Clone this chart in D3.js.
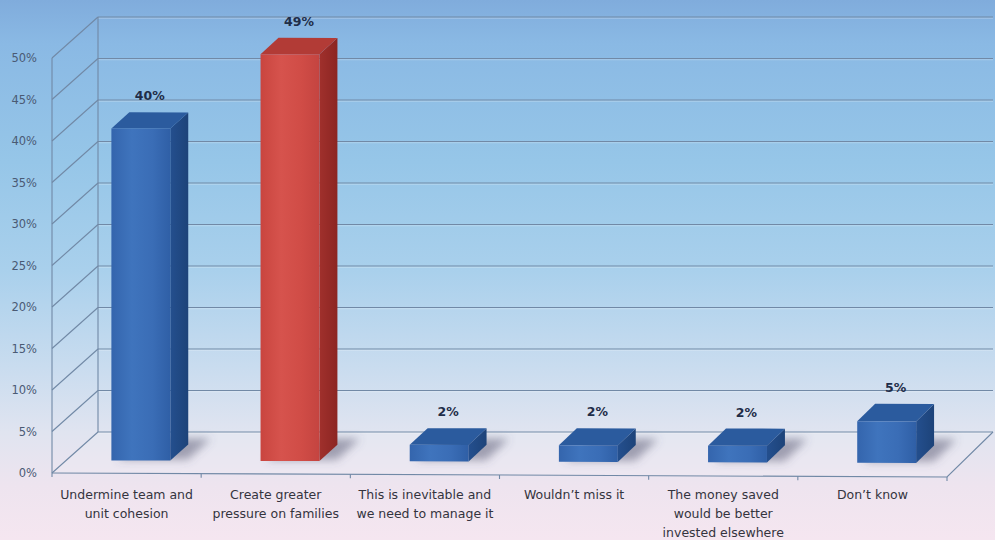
<!DOCTYPE html>
<html>
<head>
<meta charset="utf-8">
<script src="https://cdn.jsdelivr.net/npm/d3@7"></script>
<style>
  html, body { margin: 0; padding: 0; background: #fff; }
  svg { display: block; }
</style>
</head>
<body>
<svg id="chart" width="995" height="540"></svg>
<script>
// Survey answers, values in percent
const categories = [
  "Undermine team and\nunit cohesion",
  "Create greater\npressure on families",
  "This is inevitable and\nwe need to manage it",
  "Wouldn\u2019t miss it",
  "The money saved\nwould be better\ninvested elsewhere",
  "Don\u2019t know"
];
const values = [40, 49, 2, 2, 2, 5];
const highlight = [false, true, false, false, false, false];
const tickValues = [0, 5, 10, 15, 20, 25, 30, 35, 40, 45, 50];

const W = 995, H = 540;
const svg = d3.select("#chart");
const defs = svg.append("defs");

// Background wash: blue sky at the top fading to pale pink
const bg = defs.append("linearGradient").attr("id", "bg")
  .attr("x1", 0).attr("y1", 0).attr("x2", 0).attr("y2", 1);
[[0, "#80acdc"], [0.08, "#8ab9e4"], [0.3, "#96c6e8"], [0.5, "#a9d0ec"],
 [0.68, "#c9dcef"], [0.8, "#e0e4f0"], [0.9, "#eee4ef"], [1, "#f5e6f0"]]
  .forEach(([o, c]) => bg.append("stop").attr("offset", o).attr("stop-color", c));
svg.append("rect").attr("width", W).attr("height", H).attr("fill", "url(#bg)");

// 3D frame geometry
const x0 = 52, x1 = 947;          // front edge of the floor
const yFront0 = 473;               // front 0% line at left
const tilt = 4;                    // front edge drops slightly to the right
const depthX = 46, depthY = 41;    // offset from front to back wall

const x = d3.scaleBand().domain(d3.range(categories.length)).range([x0, x1]);
const h = d3.scaleLinear().domain([0, 50]).range([0, 415]);
const yAxisScale = d3.scaleLinear().domain([0, 50]).range([yFront0, yFront0 - 415]);

// project (front x, depth 0..1, value) to screen
function P(fx, d, v) {
  const base = yFront0 + tilt * (fx - x0) / (x1 - x0) * (1 - d) - d * depthY;
  return [fx + d * depthX, base - h(v)];
}
const poly = pts => pts.map(p => p.join(",")).join(" ");

const gridColor = "#7189a6";
const grid = svg.append("g").attr("fill", "none").attr("stroke", gridColor).attr("stroke-width", 1.1);

// floor
svg.insert("polygon", "g")
  .attr("points", poly([P(x0, 0, 0), P(x1, 0, 0), P(x1, 1, 0), P(x0, 1, 0)]))
  .attr("fill", "#ffffff").attr("opacity", 0.12);

// back wall and side wall gridlines
tickValues.forEach(v => {
  const a = P(x0, 0, v), b = P(x0, 1, v), c = P(x1, 1, v);
  grid.append("line").attr("x1", b[0]).attr("y1", b[1]).attr("x2", c[0]).attr("y2", c[1]);
  grid.append("line").attr("x1", b[0]).attr("y1", b[1] + 1.3).attr("x2", c[0]).attr("y2", c[1] + 1.3)
    .attr("stroke", "#ffffff").attr("stroke-opacity", 0.25);
  grid.append("line").attr("x1", a[0]).attr("y1", a[1]).attr("x2", b[0]).attr("y2", b[1]);
});
// vertical edges of the side wall
[[0], [1]].forEach(([d]) => {
  const a = P(x0, d, 0), b = P(x0, d, 50);
  grid.append("line").attr("x1", a[0]).attr("y1", a[1]).attr("x2", b[0]).attr("y2", b[1]);
});
// floor front and right edges
{
  const a = P(x0, 0, 0), b = P(x1, 0, 0), c = P(x1, 1, 0);
  grid.append("polyline").attr("points", poly([a, b, c]));
}
// category ticks along the front edge
d3.range(categories.length + 1).forEach(i => {
  const fx = x0 + i * x.step();
  const p = P(fx, 0, 0);
  grid.append("line").attr("x1", p[0]).attr("y1", p[1]).attr("x2", p[0]).attr("y2", p[1] + 4);
});

// value axis labels
const axis = d3.axisLeft(yAxisScale).tickValues(tickValues)
  .tickFormat(d => d + "%").tickSize(0).tickPadding(15);
const ag = svg.append("g").attr("transform", `translate(${x0},0)`).call(axis);
ag.select(".domain").remove();
ag.selectAll("text").attr("font-family", "DejaVu Sans, sans-serif")
  .attr("font-size", 11.5).attr("fill", "#4a5a74");

// bar shadows
const blur = defs.append("filter").attr("id", "soft")
  .attr("x", "-50%").attr("y", "-50%").attr("width", "200%").attr("height", "200%");
blur.append("feGaussianBlur").attr("stdDeviation", 4);

const d1 = 0.31, d2 = 0.70;
const bw = x.bandwidth() * 0.395;

const bars = categories.map((c, i) => {
  const cx = x(i) + x.bandwidth() / 2;
  return { i, v: values[i], xl: cx - bw / 2, xr: cx + bw / 2, red: highlight[i] };
});

svg.append("g").attr("filter", "url(#soft)").selectAll("polygon").data(bars).join("polygon")
  .attr("points", b => poly([P(b.xl + 4, d1 + 0.03, 0), P(b.xr + 16, d1 + 0.03, 0),
                             P(b.xr + 16, d2 + 0.14, 0), P(b.xl + 10, d2 + 0.14, 0)]))
  .attr("fill", "#555872").attr("opacity", 0.5);

// face gradients
function hGrad(id, stops) {
  const g = defs.append("linearGradient").attr("id", id).attr("x1", 0).attr("y1", 0).attr("x2", 1).attr("y2", 0);
  stops.forEach(([o, c]) => g.append("stop").attr("offset", o).attr("stop-color", c));
}
hGrad("blueFront", [[0, "#3465ad"], [0.35, "#3f74bd"], [0.7, "#3a6db6"], [1, "#2f5fa6"]]);
hGrad("blueSide", [[0, "#244f8e"], [1, "#1d4379"]]);
hGrad("redFront", [[0, "#c9453f"], [0.35, "#d6534d"], [0.7, "#d04c46"], [1, "#c44440"]]);
hGrad("redSide", [[0, "#a0302c"], [1, "#8c2522"]]);

const bg2 = svg.append("g");
bars.forEach(b => {
  const g = bg2.append("g");
  g.append("polygon")
    .attr("points", poly([P(b.xr, d1, 0), P(b.xr, d2, 0), P(b.xr, d2, b.v), P(b.xr, d1, b.v)]))
    .attr("fill", b.red ? "url(#redSide)" : "url(#blueSide)");
  g.append("polygon")
    .attr("points", poly([P(b.xl, d1, b.v), P(b.xr, d1, b.v), P(b.xr, d2, b.v), P(b.xl, d2, b.v)]))
    .attr("fill", b.red ? "#b23b36" : "#2b5b9e");
  g.append("polygon")
    .attr("points", poly([P(b.xl, d1, 0), P(b.xr, d1, 0), P(b.xr, d1, b.v), P(b.xl, d1, b.v)]))
    .attr("fill", b.red ? "url(#redFront)" : "url(#blueFront)");
});

// value labels
svg.append("g").selectAll("text").data(bars).join("text")
  .attr("x", b => (P(b.xl, d1, b.v)[0] + P(b.xr, d2, b.v)[0]) / 2)
  .attr("y", b => P(b.xl, d2, b.v)[1] - 12)
  .attr("text-anchor", "middle")
  .attr("font-family", "DejaVu Sans, sans-serif").attr("font-weight", "bold")
  .attr("font-size", 12.5).attr("fill", "#1f2d48")
  .text(b => b.v + "%");

// category labels
const cl = svg.append("g").attr("font-family", "DejaVu Sans, sans-serif")
  .attr("font-size", 12.5).attr("fill", "#34343e").attr("text-anchor", "middle");
categories.forEach((c, i) => {
  const cx = x(i) + x.bandwidth() / 2;
  const t = cl.append("text").attr("x", cx).attr("y", 499);
  c.split("\n").forEach((line, k) => {
    t.append("tspan").attr("x", cx).attr("dy", k === 0 ? 0 : 19).text(line);
  });
});
</script>
</body>
</html>
